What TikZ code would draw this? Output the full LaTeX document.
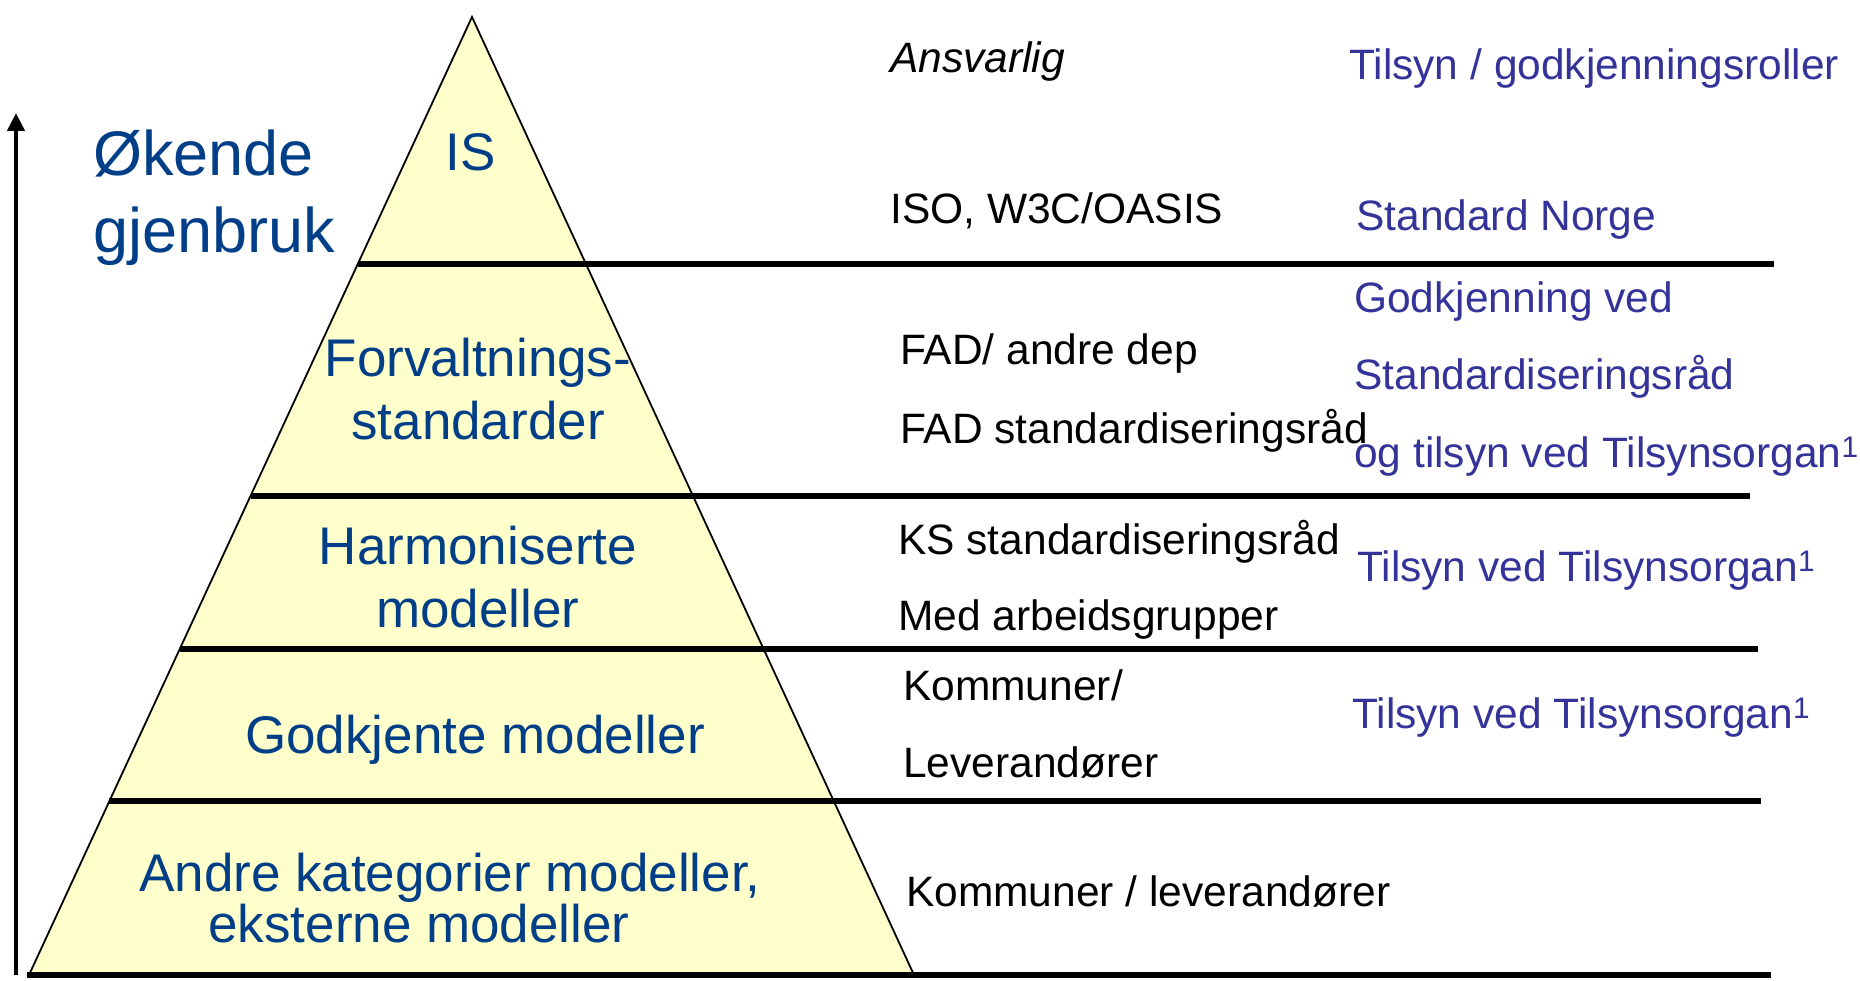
\documentclass[tikz,border=0pt]{standalone}
\usepackage{fontspec}
\setmainfont{Liberation Sans}
\usetikzlibrary{arrows.meta, calc}
\definecolor{pyrfill}{HTML}{FFFFCC}
\definecolor{pyrblue}{HTML}{003F87}
\definecolor{roleblue}{HTML}{333399}

\begin{document}
\begin{tikzpicture}[x=1pt, y=-1pt,
    level/.style={font=\fontsize{53}{63}\selectfont, text=pyrblue, align=center, inner sep=0pt, anchor=base},
    resp/.style={font=\fontsize{42.5}{50}\selectfont, inner sep=0pt, anchor=base west},
    role/.style={resp, text=roleblue},
    divider/.style={line width=5.5pt}]
  \useasboundingbox (0,0) rectangle (1860,981);

  % pyramid
  \coordinate (apex) at (472,17);
  \coordinate (bl) at (29,975);
  \coordinate (br) at (914,975);
  \fill[pyrfill] (apex) -- (bl) -- (br) -- cycle;
  \draw[line width=1.8pt] (apex) -- (bl) -- (br) -- cycle;

  % level dividers, from the left side of the pyramid
  \coordinate (d1) at ($(apex)!0.2578!(bl)$);
  \coordinate (d2) at ($(apex)!0.5000!(bl)$);
  \coordinate (d3) at ($(apex)!0.6597!(bl)$);
  \coordinate (d4) at ($(apex)!0.8184!(bl)$);
  \coordinate (e1) at (1774,0 |- d1);
  \coordinate (e2) at (1750,0 |- d2);
  \coordinate (e3) at (1758,0 |- d3);
  \coordinate (e4) at (1761,0 |- d4);
  \coordinate (b0) at (27,975);
  \coordinate (e5) at (1771,975);
  \draw[divider] (d1) -- (e1);
  \draw[divider] (d2) -- (e2);
  \draw[divider] (d3) -- (e3);
  \draw[divider] (d4) -- (e4);
  \draw[divider] (b0) -- (e5);

  % reuse arrow
  \coordinate (up0) at (16,975);
  \coordinate (up1) at (16,113);
  \draw[line width=4.5pt, -{Triangle[length=18pt,width=17pt]}] (up0) -- (up1);
  \node[level, anchor=base west, align=left, font=\fontsize{63}{77}\selectfont] (reuse) at (93,253) {Økende\\gjenbruk};

  % pyramid levels
  \node[level] (is) at (471,171) {IS};
  \node[level] (forv) at (478,439) {Forvaltnings-\\standarder};
  \node[level] (harm) at (478,627) {Harmoniserte\\modeller};
  \node[level] (godkj) at (475,753) {Godkjente modeller};
  \node[level] (andre) at (450,891) {Andre kategorier modeller,};
  \node[level] (ekst) at (419,942) {eksterne modeller};

  % responsible
  \node[resp, font=\fontsize{42.5}{50}\selectfont\itshape] (ansv) at (890,73) {Ansvarlig};
  \node[resp] (iso) at (890,224) {ISO, W3C/OASIS};
  \node[resp] (fad1) at (900,365) {FAD/ andre dep};
  \node[resp] (fad2) at (900,443) {FAD standardiseringsråd};
  \node[resp] (ks) at (898,554) {KS standardiseringsråd};
  \node[resp] (med) at (898,630) {Med arbeidsgrupper};
  \node[resp] (kom1) at (903,700) {Kommuner/};
  \node[resp] (lev) at (903,777) {Leverandører};
  \node[resp] (kom2) at (906,906) {Kommuner / leverandører};

  % supervision / approval
  \node[role] (roles) at (1349,80) {Tilsyn / godkjenningsroller};
  \node[role] (sn) at (1356,231) {Standard Norge};
  \node[role] (gv) at (1354,313) {Godkjenning ved};
  \node[role] (sr) at (1354,389) {Standardiseringsråd};
  \node[role] (ot) at (1354,467) {og tilsyn ved Tilsynsorgan\textsuperscript{1}};
  \node[role] (ts3) at (1357,581) {Tilsyn ved Tilsynsorgan\textsuperscript{1}};
  \node[role] (ts4) at (1352,728) {Tilsyn ved Tilsynsorgan\textsuperscript{1}};
\end{tikzpicture}
\end{document}
